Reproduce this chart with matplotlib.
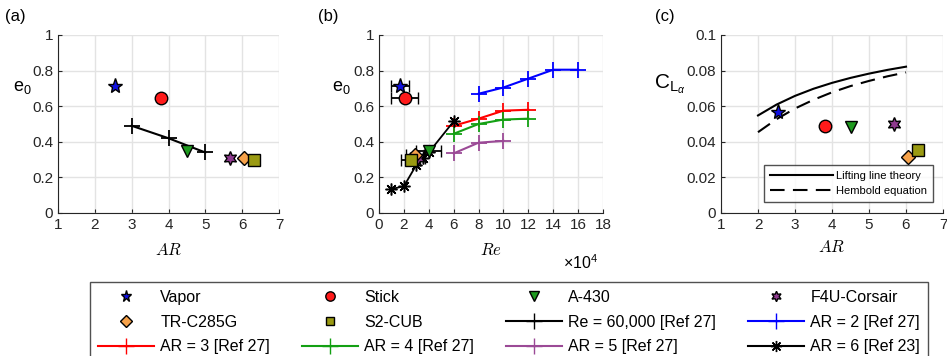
import numpy as np
import matplotlib
matplotlib.use("Agg")
import matplotlib.pyplot as plt
from matplotlib.lines import Line2D

plt.rcParams['font.family'] = ['Liberation Sans', 'DejaVu Sans']
plt.rcParams['mathtext.fontset'] = 'custom'
plt.rcParams['mathtext.rm'] = 'Liberation Sans'
plt.rcParams['mathtext.it'] = 'Liberation Sans:italic'

# wing models: name, AR, e0, Re (x1e4), Re error, CL_alpha
names = ['Vapor', 'Stick', 'A-430', 'F4U-Corsair', 'TR-C285G', 'S2-CUB']
ar_model = [2.55, 3.8, 4.5, 5.68, 6.05, 6.32]
e0_model = [0.715, 0.645, 0.35, 0.31, 0.31, 0.30]
re_model = [1.7, 2.05, 4.0, 3.1, 2.9, 2.55]
re_err = [0.75, 1.05, 1.0, 0.6, 0.7, 0.75]
e0_model_b = [0.715, 0.645, 0.35, 0.31, 0.325, 0.30]
cla_model = [0.057, 0.049, 0.0485, 0.050, 0.0315, 0.0355]

# reference data
ar_ref27 = [3, 4, 5]
e0_ref27 = [0.49, 0.42, 0.34]

re_ar2 = [8, 10, 12, 14, 16]
e0_ar2 = [0.67, 0.705, 0.755, 0.805, 0.805]
re_ar3 = [6, 8, 10, 12]
e0_ar3 = [0.49, 0.53, 0.575, 0.58]
re_ar4 = [6, 8, 10, 12]
e0_ar4 = [0.445, 0.50, 0.525, 0.53]
re_ar5 = [6, 8, 10]
e0_ar5 = [0.335, 0.395, 0.405]
re_ar6 = [1, 2, 3, 3.5, 4, 6]
e0_ar6 = [0.135, 0.15, 0.27, 0.31, 0.34, 0.515]

ar_curve = [2, 2.5, 3, 3.5, 4, 4.5, 5, 5.5, 6]
cla_llt = [0.0548, 0.0609, 0.0658, 0.0698, 0.0731, 0.0759, 0.0783, 0.0804, 0.0822]
cla_helm = [0.0454, 0.0527, 0.0587, 0.0636, 0.0678, 0.0713, 0.0742, 0.0768, 0.0790]

styles = [
    dict(marker='*', color='#1010e0', ms=11),
    dict(marker='o', color='#ff1a1a', ms=9),
    dict(marker='v', color='#1f9a1f', ms=9),
    dict(marker=(6, 1, 0), color='#8e3a8e', ms=10),
    dict(marker='D', color='#f7a24a', ms=7.5),
    dict(marker='s', color='#9a9a12', ms=8),
]
c_ar2 = '#0000ff'
c_ar3 = '#ff0000'
c_ar4 = '#13a013'
c_ar5 = '#9b4a96'
star8 = (8, 2, 0)

fig = plt.figure(figsize=(9.47, 3.56), dpi=100)
W, H = 947, 356


def make_ax(x0, x1, y0=35, y1=213):
    ax = fig.add_axes([x0 / W, 1 - y1 / H, (x1 - x0) / W, (y1 - y0) / H])
    ax.grid(True, color='#e3e3e3', lw=1)
    ax.set_axisbelow(True)
    for s in ['top', 'right']:
        ax.spines[s].set_visible(False)
    for s in ['left', 'bottom']:
        ax.spines[s].set_color('#262626')
    ax.tick_params(direction='in', length=3, labelsize=11, colors='#262626')
    return ax


# (a)
ax1 = make_ax(58, 279)
ax1.plot(ar_ref27, e0_ref27, '-', color='k', marker='+', ms=11, mew=1.3, lw=1.5)
for i in range(6):
    st = styles[i]
    ax1.plot(ar_model[i], e0_model[i], ls='none', marker=st['marker'], ms=st['ms'],
             mfc=st['color'], mec='k', mew=1)
ax1.set_xlim(1, 7)
ax1.set_ylim(0, 1)
ax1.set_xticks(range(1, 8))
ax1.set_yticks([0, 0.2, 0.4, 0.6, 0.8, 1])
ax1.set_yticklabels(['0', '0.2', '0.4', '0.6', '0.8', '1'])
ax1.set_xlabel(r'$AR$', fontsize=12, math_fontfamily='cm', labelpad=7)
ax1.set_ylabel(r'$\mathrm{e}_0$', fontsize=13, rotation=0)
ax1.yaxis.set_label_coords(-0.16, 0.66)

# (b)
ax2 = make_ax(379, 603)
for i in range(6):
    st = styles[i]
    ax2.errorbar(re_model[i], e0_model_b[i], xerr=re_err[i], ls='none', ecolor='k',
                 elinewidth=1.3, capsize=4, capthick=1.3, marker=st['marker'],
                 ms=st['ms'], mfc=st['color'], mec='k', mew=1)
ax2.plot(re_ar2, e0_ar2, '-', color=c_ar2, marker='+', ms=11, mew=1.3, lw=1.5)
ax2.plot(re_ar3, e0_ar3, '-', color=c_ar3, marker='+', ms=11, mew=1.3, lw=1.5)
ax2.plot(re_ar4, e0_ar4, '-', color=c_ar4, marker='+', ms=11, mew=1.3, lw=1.5)
ax2.plot(re_ar5, e0_ar5, '-', color=c_ar5, marker='+', ms=11, mew=1.3, lw=1.5)
ax2.plot(re_ar6, e0_ar6, '-', color='k', marker=star8, ms=8.5, mew=1.1, lw=1.3)
ax2.set_xlim(0, 18)
ax2.set_ylim(0, 1)
ax2.set_xticks(range(0, 19, 2))
ax2.set_yticks([0, 0.2, 0.4, 0.6, 0.8, 1])
ax2.set_yticklabels(['0', '0.2', '0.4', '0.6', '0.8', '1'])
ax2.set_xlabel(r'$Re$', fontsize=12, math_fontfamily='cm', labelpad=7)
ax2.set_ylabel(r'$\mathrm{e}_0$', fontsize=13, rotation=0)
ax2.yaxis.set_label_coords(-0.17, 0.66)
fig.text(563 / W, 1 - 263 / H, r'$\times\mathrm{10}^4$', fontsize=11.5, va='center')

# (c)
ax3 = make_ax(721, 943)
l1, = ax3.plot(ar_curve, cla_llt, '-', color='k', lw=1.5)
l2, = ax3.plot(ar_curve, cla_helm, '--', color='k', lw=1.5, dashes=(7, 4))
for i in range(6):
    st = styles[i]
    ax3.plot(ar_model[i], cla_model[i], ls='none', marker=st['marker'], ms=st['ms'],
             mfc=st['color'], mec='k', mew=1)
ax3.set_xlim(1, 7)
ax3.set_ylim(0, 0.1)
ax3.set_xticks(range(1, 8))
ax3.set_yticks([0, 0.02, 0.04, 0.06, 0.08, 0.1])
ax3.set_yticklabels(['0', '0.02', '0.04', '0.06', '0.08', '0.1'])
ax3.set_xlabel(r'$AR$', fontsize=12, math_fontfamily='cm', labelpad=5)
ax3.set_ylabel(r'$\mathrm{C}_{\mathrm{L}_{\alpha}}$', fontsize=15, rotation=0)
ax3.yaxis.set_label_coords(-0.23, 0.66)
leg3 = ax3.legend([l1, l2], ['Lifting line theory', 'Hembold equation'],
                  loc='lower right', bbox_to_anchor=(0.955, 0.06), fontsize=8,
                  frameon=True, fancybox=False, edgecolor='#262626',
                  handlelength=5.6, handletextpad=0.3, borderpad=0.55,
                  labelspacing=0.45, borderaxespad=0)
leg3.get_frame().set_linewidth(1)

fig.text(5 / W, 1 - 16 / H, '(a)', fontsize=12, va='center')
fig.text(318 / W, 1 - 16 / H, '(b)', fontsize=12, va='center')
fig.text(655 / W, 1 - 16 / H, '(c)', fontsize=12, va='center')

# shared legend
h = []
for i in range(6):
    st = styles[i]
    h.append(Line2D([], [], ls='none', marker=st['marker'], ms=st['ms'] * 0.75,
                    mfc=st['color'], mec='k', mew=1))
h_re = Line2D([], [], color='k', marker='+', ms=11, mew=1, lw=1.5)
h_ar2 = Line2D([], [], color=c_ar2, marker='+', ms=11, mew=1, lw=1.5)
h_ar3 = Line2D([], [], color=c_ar3, marker='+', ms=11, mew=1, lw=1.5)
h_ar4 = Line2D([], [], color=c_ar4, marker='+', ms=11, mew=1, lw=1.5)
h_ar5 = Line2D([], [], color=c_ar5, marker='+', ms=11, mew=1, lw=1.5)
h_ar6 = Line2D([], [], color='k', marker=star8, ms=8, mew=1, lw=1.5)

# matplotlib fills legends column by column
handles = [h[0], h[4], h_ar3, h[1], h[5], h_ar4, h[2], h_re, h_ar5, h[3], h_ar2, h_ar6]
labels = ['Vapor', 'TR-C285G', 'AR = 3 [Ref 27]',
          'Stick', 'S2-CUB', 'AR = 4 [Ref 27]',
          'A-430', 'Re = 60,000 [Ref 27]', 'AR = 5 [Ref 27]',
          'F4U-Corsair', 'AR = 2 [Ref 27]', 'AR = 6 [Ref 23]']
leg = fig.legend(handles, labels, ncol=4, loc='upper left',
                 bbox_to_anchor=(90 / W, 1 - 282 / H, (928 - 90) / W, 0.0),
                 mode='expand', fontsize=11.5, frameon=True, fancybox=False,
                 edgecolor='#262626', handlelength=3.5, handletextpad=0.4,
                 borderpad=0.5, labelspacing=0.6, columnspacing=0.8,
                 borderaxespad=0)
leg.get_frame().set_linewidth(1)

fig.savefig('out.png', dpi=100)
